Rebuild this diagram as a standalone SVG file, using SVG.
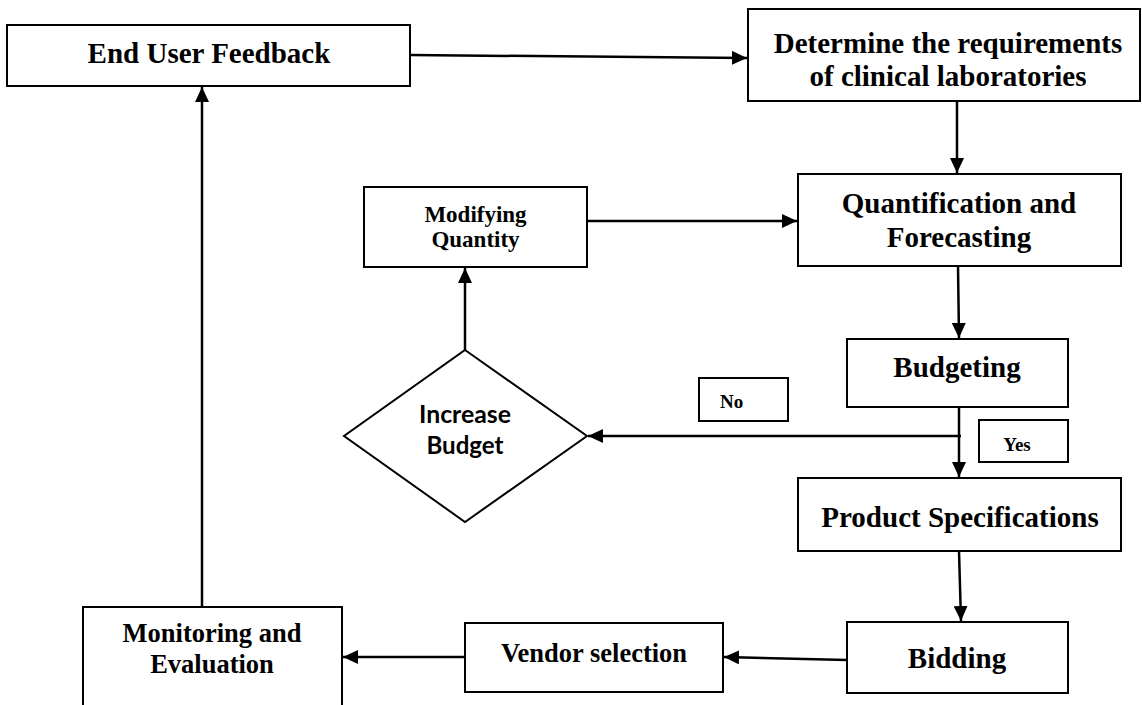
<svg xmlns="http://www.w3.org/2000/svg" width="1142" height="705" viewBox="0 0 1142 705">
<style>
.box{fill:#fff;stroke:#000;stroke-width:2}
.t{font-family:"Liberation Serif","Times New Roman",serif;font-weight:bold;fill:#000;text-anchor:middle}
.big{font-size:29px}
.mid{font-size:26.5px}
.sm{font-size:23px}
.lab{font-size:19px}
.sans{font-family:Lato,"Liberation Sans",sans-serif;font-weight:bold;font-size:24px;fill:#000;text-anchor:middle}
.c{stroke:#000;stroke-width:2.5;fill:none;marker-end:url(#ah)}
.cn{stroke:#000;stroke-width:2.5;fill:none}
</style>
<defs>
<marker id="ah" markerUnits="userSpaceOnUse" markerWidth="16" markerHeight="14" refX="15" refY="7" orient="auto">
<path d="M0,0 L15,7 L0,14 Z" fill="#000"/>
</marker>
</defs>
<rect width="1142" height="705" fill="#fff"/>
<g id="connectors">
<line class="c" x1="410" y1="55" x2="747" y2="58"/>
<line class="c" x1="957" y1="101" x2="957" y2="173"/>
<line class="c" x1="958" y1="266" x2="959" y2="338"/>
<line class="c" x1="959" y1="408" x2="959" y2="477"/>
<line class="cn" x1="961" y1="436" x2="600" y2="436"/>
<line class="c" x1="600" y1="436" x2="588" y2="436"/>
<line class="c" x1="465" y1="350" x2="465" y2="268"/>
<line class="c" x1="587" y1="221" x2="797" y2="221"/>
<line class="c" x1="959" y1="551" x2="961" y2="621"/>
<line class="c" x1="847" y1="660" x2="724" y2="657"/>
<line class="c" x1="465" y1="657" x2="343" y2="657"/>
<line class="c" x1="202" y1="607" x2="202" y2="87"/>
</g>
<g id="end-user-feedback">
<rect class="box" x="7" y="25" width="403" height="61"/>
<text class="t big" x="209" y="63">End User Feedback</text>
</g>
<g id="determine-requirements">
<rect class="box" x="748" y="9" width="392" height="92"/>
<text class="t big" x="948" y="53">Determine the requirements</text>
<text class="t big" x="948" y="86">of clinical laboratories</text>
</g>
<g id="quantification">
<rect class="box" x="798" y="174" width="323" height="92"/>
<text class="t big" x="959" y="213">Quantification and</text>
<text class="t big" x="959" y="247">Forecasting</text>
</g>
<g id="modifying-quantity">
<rect class="box" x="364" y="187" width="223" height="80"/>
<text class="t sm" x="475.5" y="222">Modifying</text>
<text class="t sm" x="475.5" y="247">Quantity</text>
</g>
<g id="budgeting">
<rect class="box" x="847" y="339" width="221" height="68"/>
<text class="t big" x="957" y="377">Budgeting</text>
</g>
<g id="increase-budget">
<polygon class="box" points="465,350 587,436 465,522 344,436"/>
<text class="sans" x="465" y="423" textLength="92" lengthAdjust="spacingAndGlyphs">Increase</text>
<text class="sans" x="465" y="454" textLength="77" lengthAdjust="spacingAndGlyphs">Budget</text>
</g>
<g id="no-label">
<rect class="box" x="699" y="378" width="89" height="43"/>
<text class="t lab" x="720" y="408" style="text-anchor:start">No</text>
</g>
<g id="yes-label">
<rect class="box" x="979" y="420" width="89" height="42"/>
<text class="t lab" x="1017" y="451">Yes</text>
</g>
<g id="product-specifications">
<rect class="box" x="798" y="478" width="323" height="73"/>
<text class="t big" x="960" y="527">Product Specifications</text>
</g>
<g id="bidding">
<rect class="box" x="847" y="622" width="221" height="71"/>
<text class="t big" x="957" y="668">Bidding</text>
</g>
<g id="vendor-selection">
<rect class="box" x="465" y="623" width="258" height="69"/>
<text class="t mid" x="594" y="662">Vendor selection</text>
</g>
<g id="monitoring-evaluation">
<rect class="box" x="83" y="607" width="259" height="110"/>
<text class="t mid" x="212" y="642">Monitoring and</text>
<text class="t mid" x="212" y="673">Evaluation</text>
</g>
</svg>
